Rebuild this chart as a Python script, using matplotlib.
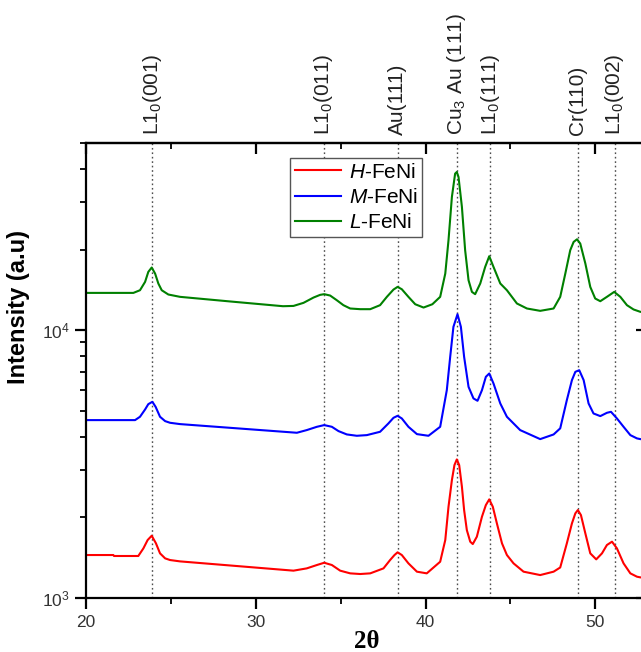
import matplotlib
matplotlib.use("Agg")
import matplotlib.pyplot as plt
import matplotlib.transforms as mtransforms
from matplotlib.ticker import LogLocator, NullFormatter, MultipleLocator

plt.rcParams['font.family'] = ['Liberation Sans', 'DejaVu Sans']
plt.rcParams['mathtext.fontset'] = 'custom'
plt.rcParams['mathtext.rm'] = 'Liberation Sans'
plt.rcParams['mathtext.it'] = 'Liberation Sans:italic'
plt.rcParams['mathtext.bf'] = 'Liberation Sans:bold'

# ---- data ----
h_x = [20.0, 21.61, 21.65, 23.08, 23.38, 23.63, 23.87, 24.12, 24.36, 24.66, 24.95, 25.54,
       32.22, 33.0, 33.6, 34.03, 34.48, 34.97, 35.56, 36.15, 36.74, 37.52, 37.91, 38.17,
       38.35, 38.6, 38.99, 39.49, 40.07, 40.86, 41.16, 41.35, 41.55, 41.7, 41.84, 41.98,
       42.14, 42.27, 42.43, 42.63, 42.78, 43.02, 43.32, 43.55, 43.75, 43.96, 44.2, 44.5,
       44.79, 45.18, 45.77, 46.75, 47.54, 47.93, 48.32, 48.62, 48.82, 48.97, 49.15, 49.41,
       49.7, 50.05, 50.39, 50.68, 50.98, 51.27, 51.66, 52.06, 52.45, 52.65, 53.1]
h_y = [1447, 1447, 1435, 1435, 1532, 1646, 1708, 1600, 1468, 1406, 1386, 1370,
       1265, 1290, 1328, 1354, 1328, 1265, 1236, 1229, 1236, 1290, 1386, 1447,
       1481, 1447, 1347, 1254, 1236, 1366, 1646, 2191, 2756, 3135, 3292, 3135,
       2603, 2130, 1793, 1623, 1590, 1694, 2011, 2223, 2335, 2191, 1899, 1600,
       1447, 1347, 1254, 1218, 1254, 1300, 1600, 1899, 2070, 2130, 2040, 1743,
       1468, 1394, 1468, 1577, 1623, 1532, 1347, 1236, 1201, 1194, 1190]

m_x = [20.0, 22.89, 23.18, 23.48, 23.67, 23.91, 24.10, 24.36, 24.66, 24.95, 25.54,
       32.42, 33.0, 33.6, 34.03, 34.48, 34.87, 35.36, 35.95, 36.54, 37.32, 37.81, 38.11,
       38.35, 38.6, 38.99, 39.49, 40.17, 40.86, 41.25, 41.45, 41.64, 41.88, 42.08, 42.27,
       42.53, 42.82, 43.06, 43.32, 43.55, 43.75, 44.0, 44.4, 44.79, 45.57, 46.75, 47.54,
       47.93, 48.32, 48.62, 48.82, 49.05, 49.31, 49.6, 49.89, 50.29, 50.68, 50.92, 51.27,
       51.66, 52.06, 52.45, 52.65, 53.1]
m_y = [4616, 4616, 4750, 5058, 5295, 5402, 5174, 4750, 4576, 4511, 4460,
       4140, 4236, 4358, 4422, 4358, 4200, 4081, 4034, 4057, 4175, 4485, 4708,
       4789, 4682, 4358, 4092, 4034, 4358, 5970, 7953, 10290, 11470, 10290, 7953,
       6145, 5562, 5450, 5970, 6697, 6891, 6324, 5326, 4750, 4236, 3920, 4080,
       4300, 5481, 6509, 6990, 7090, 6509, 5326, 4887, 4777, 4915, 4957, 4682,
       4358, 4057, 3944, 3920, 3900]

l_x = [20.0, 22.79, 23.18, 23.48, 23.67, 23.87, 24.07, 24.26, 24.46, 24.85, 25.54, 28.5,
       31.6, 32.22, 32.81, 33.40, 33.79, 34.03, 34.38, 34.77, 35.16, 35.56, 36.15, 36.74,
       37.32, 37.72, 38.11, 38.35, 38.60, 38.99, 39.39, 39.88, 40.4, 40.86, 41.16, 41.35,
       41.55, 41.74, 41.84, 41.94, 42.14, 42.33, 42.53, 42.73, 42.92, 43.22, 43.51, 43.75,
       44.00, 44.40, 44.79, 45.38, 45.97, 46.75, 47.54, 47.93, 48.23, 48.52, 48.72, 48.92,
       49.11, 49.41, 49.70, 49.99, 50.29, 50.68, 51.11, 51.47, 51.86, 52.25, 52.65, 53.1]
l_y = [13780, 13780, 14100, 15150, 16510, 17140, 16270, 14940, 14100, 13590, 13320, 12800,
       12290, 12320, 12650, 13240, 13550, 13630, 13470, 12940, 12400, 12050, 11980, 11980,
       12400, 13320, 14180, 14510, 14220, 13320, 12500, 12150, 12500, 13320, 16270, 21670,
       31450, 38420, 38970, 37340, 28850, 19890, 15370, 13900, 13630, 14940, 17230, 18890,
       17230, 14940, 14100, 12580, 12050, 11810, 12050, 13320, 16270, 19890, 21360, 21850,
       21060, 17740, 14510, 13130, 12830, 13320, 13900, 13320, 12400, 11950, 11710, 11650]

series_labels = ['$\\it{H}$-FeNi', '$\\it{M}$-FeNi', '$\\it{L}$-FeNi']
series_colors = ['#ff0000', '#0000ff', '#008000']

ref_pos = [23.9, 34.0, 38.35, 41.85, 43.8, 48.95, 51.15]
ref_labels = ['L1$_0$(001)', 'L1$_0$(011)', 'Au(111)', 'Cu$_3$ Au (111)',
              'L1$_0$(111)', 'Cr(110)', 'L1$_0$(002)']

# ---- figure ----
fig = plt.figure(figsize=(6.41, 6.52), dpi=100)
ax = fig.add_axes([86/641, 54/652, 562/641, 455/652])

for xs, ys, lab, col in zip([h_x, m_x, l_x], [h_y, m_y, l_y], series_labels, series_colors):
    ax.plot(xs, ys, color=col, lw=1.5, label=lab, solid_joinstyle='round')

for p in ref_pos:
    ax.axvline(p, color='#4d4d4d', lw=1.0, ls=(0, (1.2, 2.0)), zorder=0)

ax.set_yscale('log')
ax.set_xlim(20, 53.1)
ax.set_ylim(1000, 50000)

ax.xaxis.set_major_locator(MultipleLocator(10))
ax.xaxis.set_minor_locator(MultipleLocator(5))
ax.yaxis.set_major_locator(LogLocator(base=10))
ax.yaxis.set_minor_locator(LogLocator(base=10, subs=range(2, 10)))
ax.yaxis.set_minor_formatter(NullFormatter())

for s in ax.spines.values():
    s.set_linewidth(1.6)

ax.tick_params(axis='both', which='major', direction='out', length=8, width=1.6,
               labelsize=12.5, labelcolor='#333333', top=False, right=False)
ax.tick_params(axis='both', which='minor', direction='out', length=4.5, width=1.3,
               top=False, right=False)
ax.tick_params(axis='x', pad=4)

# mirrored inward ticks on top and right
sec_x = ax.secondary_xaxis('top')
sec_x.xaxis.set_major_locator(MultipleLocator(10))
sec_x.xaxis.set_minor_locator(MultipleLocator(5))
sec_x.tick_params(which='major', direction='in', length=8, width=1.6, labeltop=False)
sec_x.tick_params(which='minor', direction='in', length=4.5, width=1.3)
sec_x.spines['top'].set_linewidth(1.6)

sec_y = ax.secondary_yaxis('right')
sec_y.tick_params(which='major', direction='in', length=9, width=1.6, labelright=False)
sec_y.tick_params(which='minor', direction='in', length=4.5, width=1.3, labelright=False)
sec_y.spines['right'].set_linewidth(1.6)

ax.set_ylabel('Intensity (a.u)', fontsize=17, fontweight='bold')
ax.yaxis.set_label_coords(-0.1, 0.64)
ax.set_xlabel('2θ', fontsize=18, fontweight='bold', family='Liberation Serif', labelpad=0)

trans = mtransforms.blended_transform_factory(ax.transData, ax.transAxes)
for p, t in zip(ref_pos, ref_labels):
    ax.text(p, 1.018, t, rotation=90, transform=trans, ha='center', va='bottom',
            fontsize=15, color='#222222')

leg = ax.legend(loc='upper left', bbox_to_anchor=(0.363, 0.967), borderaxespad=0,
                fontsize=15, handlelength=2.25, handletextpad=0.35, frameon=True,
                fancybox=False, edgecolor='#555555', framealpha=1, borderpad=0.22,
                labelspacing=0.3)
leg.get_frame().set_linewidth(1.0)

fig.savefig('out.png', dpi=100)
